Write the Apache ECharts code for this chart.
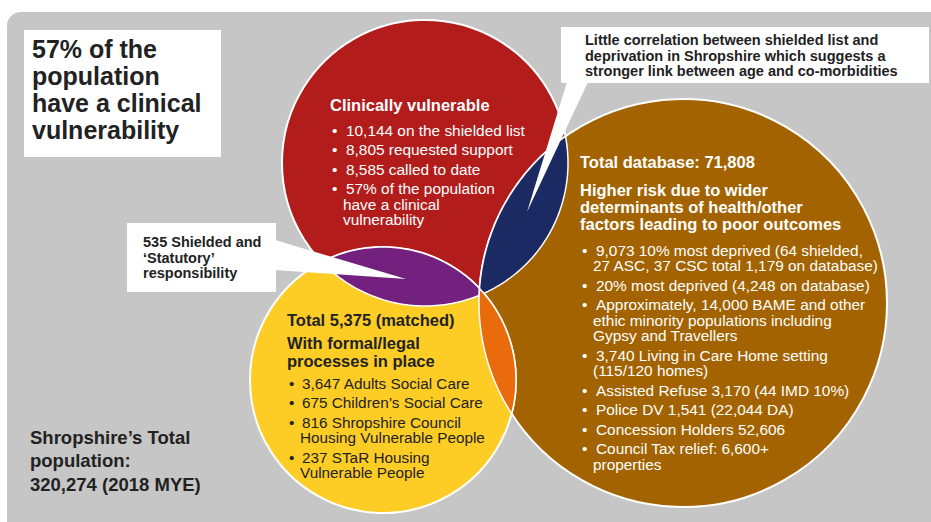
<!DOCTYPE html>
<html>
<head>
<meta charset="utf-8">
<script src="https://cdn.jsdelivr.net/npm/echarts@6/dist/echarts.min.js"></script>
<style>
  html, body { margin: 0; padding: 0; background: #fff; }
  #chart { width: 931px; height: 522px; }
</style>
</head>
<body>
<div id="chart"></div>
<script>
// circles of the Venn: centre and radius in page units
const circleNames = ['Clinically vulnerable', 'Total database', 'Formal/legal processes']
const circleX = [425, 683, 383]
const circleY = [163, 303, 380]
const circleR = [143, 204, 133]

// overlaps: pairs of circle indexes
const lensPairs = [[0, 2], [0, 1], [2, 1]]
const lensNames = ['535 Shielded and statutory', 'Shielded and deprivation', 'Statutory and database']

// texts
const titleLines = ['57% of the', 'population', 'have a clinical', 'vulnerability']
const noteLines = ['Little correlation between shielded list and', 'deprivation in Shropshire which suggests a', 'stronger link between age and co-morbidities']
const shieldLines = ['535 Shielded and', '\u2018Statutory\u2019', 'responsibility']
const totalLines = ['Shropshire\u2019s Total', 'population:', '320,274 (2018 MYE)']

const redHead = ['Clinically vulnerable']
const redItems = [
  ['10,144 on the shielded list'],
  ['8,805 requested support'],
  ['8,585 called to date'],
  ['57% of the population', 'have a clinical', 'vulnerability']
]
const brownHead = ['Total database: 71,808']
const brownSub = ['Higher risk due to wider', 'determinants of health/other', 'factors leading to poor outcomes']
const brownItems = [
  ['9,073 10% most deprived (64 shielded,', '27 ASC, 37 CSC total 1,179 on database)'],
  ['20% most deprived (4,248 on database)'],
  ['Approximately, 14,000 BAME and other', 'ethic minority populations including', 'Gypsy and Travellers'],
  ['3,740 Living in Care Home setting', '(115/120 homes)'],
  ['Assisted Refuse 3,170 (44 IMD 10%)'],
  ['Police DV 1,541 (22,044 DA)'],
  ['Concession Holders 52,606'],
  ['Council Tax relief: 6,600+', 'properties']
]
const yellowHead = ['Total 5,375 (matched)']
const yellowSub = ['With formal/legal', 'processes in place']
const yellowItems = [
  ['3,647 Adults Social Care'],
  ['675 Children\u2019s Social Care'],
  ['816 Shropshire Council', 'Housing Vulnerable People'],
  ['237 STaR Housing', 'Vulnerable People']
]

const circleColors = ['#b21c1b', '#a36300', '#fdcd26']
const lensColors = ['#74207f', '#1b2a63', '#e96b0c']
const FONT = 'Liberation Sans'
const DARK = '#222222'

const chart = echarts.init(document.getElementById('chart'), null, { renderer: 'svg' })

const graphics = []

// one text element per block; y is the centre of the first line
const addBlock = (lines, x, y, step, size, weight, color) => {
  graphics.push({
    type: 'text',
    z: 100,
    x: x,
    y: y - step / 2,
    style: {
      text: lines.join('\n'),
      fill: color,
      fontSize: size,
      fontWeight: weight,
      fontFamily: FONT,
      lineHeight: step,
      align: 'left',
      verticalAlign: 'top',
      textAlign: 'left',
      textVerticalAlign: 'top'
    }
  })
}

// bullet list: 15.5 inside an item, 19.5 between items
const addList = (items, bulletX, textX, contX, y0, size, color) => {
  let y = y0
  items.forEach((item) => {
    addBlock(['\u2022'], bulletX, y, 15.5, size, 'normal', color)
    addBlock([item[0]], textX, y, 15.5, size, 'normal', color)
    if (item.length > 1) addBlock(item.slice(1), contX, y + 15.5, 15.5, size, 'normal', color)
    y += 15.5 * (item.length - 1) + 19.5
  })
}

// background panel
graphics.push({
  type: 'rect', z: -10,
  shape: { x: 7, y: 12, width: 940, height: 530, r: 14 },
  style: { fill: '#c6c6c6' }
})

// callout boxes
graphics.push({ type: 'rect', z: 90, shape: { x: 24, y: 30, width: 197, height: 127 }, style: { fill: '#fff' } })
graphics.push({ type: 'rect', z: 90, shape: { x: 561, y: 27, width: 368, height: 56 }, style: { fill: '#fff' } })
graphics.push({ type: 'polygon', z: 90, shape: { points: [[567, 82], [588, 82], [527, 212]] }, style: { fill: '#fff' } })
graphics.push({ type: 'rect', z: 90, shape: { x: 127, y: 223, width: 149, height: 69 }, style: { fill: '#fff' } })
graphics.push({ type: 'polygon', z: 90, shape: { points: [[275, 240], [406, 279], [275, 270]] }, style: { fill: '#fff' } })

addBlock(titleLines, 32, 49, 27, 25, 'bold', DARK)
addBlock(noteLines, 585, 40, 15.5, 14.5, 'bold', DARK)
addBlock(shieldLines, 143, 242, 15.5, 14.5, 'bold', DARK)
addBlock(totalLines, 30, 437, 23.5, 18.5, 'bold', DARK)

addBlock(redHead, 330, 105, 18, 16.5, 'bold', '#fff')
addList(redItems, 332, 346, 343, 130, 15.4, '#fff')

addBlock(brownHead, 580, 162, 18, 16.5, 'bold', '#fff')
addBlock(brownSub, 580, 190, 17, 16.5, 'bold', '#fff')
addList(brownItems, 582, 596, 593, 250, 15.4, '#fff')

addBlock(yellowHead, 287, 320, 18, 16.5, 'bold', DARK)
addBlock(yellowSub, 287, 343, 18, 16.5, 'bold', DARK)
addList(yellowItems, 289, 302, 300, 383, 15.3, DARK)

// lens outline of two circles, as points in data units
const lensPoints = (i, k) => {
  const x1 = circleX[i], y1 = circleY[i], r1 = circleR[i]
  const x2 = circleX[k], y2 = circleY[k], r2 = circleR[k]
  const d = Math.hypot(x2 - x1, y2 - y1)
  const a = (r1 * r1 - r2 * r2 + d * d) / (2 * d)
  const th = Math.atan2(y2 - y1, x2 - x1)
  const al = Math.acos(Math.max(-1, Math.min(1, a / r1)))
  const be = Math.acos(Math.max(-1, Math.min(1, (d - a) / r2)))
  const pts = []
  const n = 60
  for (let s = 0; s <= n; s++) {
    const t = th - al + (2 * al * s) / n
    pts.push([x1 + r1 * Math.cos(t), y1 + r1 * Math.sin(t)])
  }
  for (let s = 0; s <= n; s++) {
    const t = th + Math.PI - be + (2 * be * s) / n
    pts.push([x2 + r2 * Math.cos(t), y2 + r2 * Math.sin(t)])
  }
  return pts
}

const circleData = circleNames.map((n, i) => ({ name: n, value: [circleX[i], circleY[i], circleR[i], i] }))
const lensData = lensPairs.map((p, i) => ({ name: lensNames[i], value: [p[0], p[1], i] }))

chart.setOption({
  animation: false,
  graphic: graphics,
  grid: { left: 0, right: 0, top: 0, bottom: 0 },
  xAxis: { type: 'value', min: 0, max: 931, show: false },
  yAxis: { type: 'value', min: 0, max: 522, inverse: true, show: false },
  series: [
    {
      type: 'custom',
      name: 'circles',
      z: 2,
      data: circleData,
      renderItem: (params, api) => {
        const c = api.coord([api.value(0), api.value(1)])
        const r = api.size([api.value(2), 0])[0]
        return {
          type: 'circle',
          shape: { cx: c[0], cy: c[1], r: r },
          style: { fill: circleColors[api.value(3)], stroke: '#ffffff', lineWidth: 2 }
        }
      }
    },
    {
      type: 'custom',
      name: 'overlaps',
      z: 3,
      data: lensData,
      renderItem: (params, api) => {
        const pts = lensPoints(api.value(0), api.value(1)).map(p => api.coord(p))
        return {
          type: 'polygon',
          shape: { points: pts },
          style: { fill: lensColors[api.value(2)], stroke: '#ffffff', lineWidth: 1.5 }
        }
      }
    }
  ]
})
</script>
</body>
</html>
